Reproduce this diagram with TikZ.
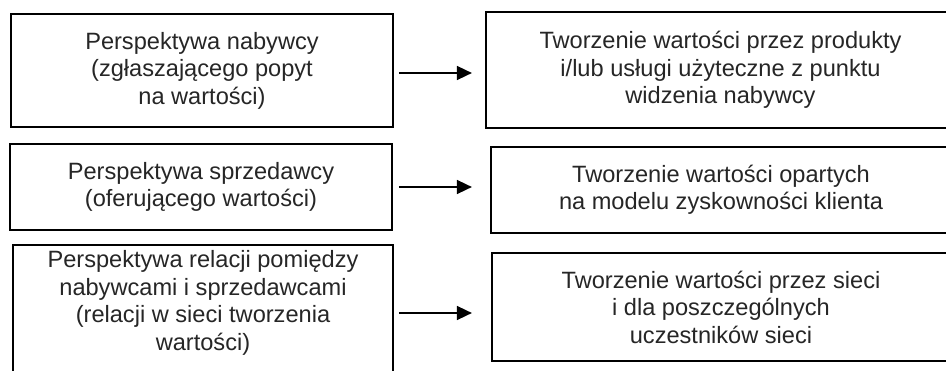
\documentclass[tikz,border=0pt]{standalone}
\usepackage{fontspec}
\setmainfont{Liberation Sans}
\usetikzlibrary{arrows.meta,calc}
\begin{document}
\begin{tikzpicture}[x=1pt,y=-1pt,
  boxed/.style={draw=black, line width=1.8pt, inner sep=0pt, align=center,
    font=\fontsize{23.6}{27.5}\selectfont, text=black!85},
  plain/.style={inner sep=0pt, align=center,
    font=\fontsize{23.6}{27.5}\selectfont, text=black!85},
  arr/.style={-{Triangle[length=15pt,width=14pt]}, line width=1.6pt, draw=black}]
\clip (0,0) rectangle (946,371);
\fill[white] (0,0) rectangle (946,371);
% left column
\node[boxed, minimum width=382pt, minimum height=113pt] (a1) at (202,70.5)
  {Perspektywa nabywcy\\(zgłaszającego popyt\\na wartości)};
\node[boxed, minimum width=382pt, minimum height=86pt] (a2) at (201,187)
  {Perspektywa sprzedawcy\\(oferującego wartości)};
\node[boxed, minimum width=380pt, minimum height=140pt] (a3) at (203,315) {};
\node[plain] (a3t) at (203,303)
  {Perspektywa relacji pomiędzy\\nabywcami i sprzedawcami\\(relacji w sieci tworzenia\\wartości)};
% right column
\node[boxed, minimum width=469pt, minimum height=116pt] (b1) at (720.5,70)
  {Tworzenie wartości przez produkty\\i/lub usługi użyteczne z punktu\\widzenia nabywcy};
\node[boxed, minimum width=460pt, minimum height=86pt] (b2) at (721,190)
  {Tworzenie wartości opartych\\na modelu zyskowności klienta};
\node[boxed, minimum width=458pt, minimum height=108pt] (b3) at (721,307)
  {Tworzenie wartości przez sieci\\i dla poszczególnych\\uczestników sieci};
% arrows
\draw[arr] ($(a1.east)+(5,2.5)$) -- ($(a1.east)+(78,2.5)$);
\draw[arr] ($(a2.east)+(6,0)$) -- ($(a2.east)+(79,0)$);
\draw[arr] ($(a3.east)+(5,-2)$) -- ($(a3.east)+(78,-2)$);
\end{tikzpicture}
\end{document}
